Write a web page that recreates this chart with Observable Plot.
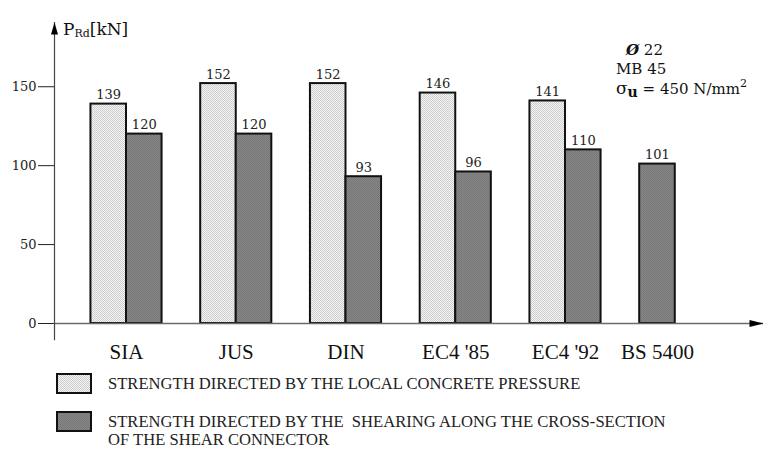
<!DOCTYPE html>
<html>
<head>
<meta charset="utf-8">
<script src="https://cdn.jsdelivr.net/npm/d3@7"></script>
<script src="https://cdn.jsdelivr.net/npm/@observablehq/plot@0.6"></script>
<style>
  body { margin: 0; background: #fff; }
  #wrap { position: relative; width: 768px; height: 450px; overflow: hidden; background: #fff; }
  #legend { position: absolute; left: 56px; top: 373px; font-family: "Liberation Serif", serif; font-size: 16.6px; color: #222; }
  .row { display: flex; align-items: flex-start; }
  .sw { width: 36px; height: 21px; box-sizing: border-box; border: 2px solid #111; flex: none; }
  .sw.light { background: repeating-conic-gradient(#cdcdcd 0 25%, #f5f5f5 0 50%) 0 0 / 2px 2px; }
  .sw.dark { background: repeating-conic-gradient(#767676 0 25%, #888 0 50%) 0 0 / 2px 2px; }
  .lt { margin-left: 16px; line-height: 18px; margin-top: 2px; }
</style>
</head>
<body>
<div id="wrap"></div>
<script>
// ---- data ----
const standards = ["SIA", "JUS", "DIN", "EC4 '85", "EC4 '92", "BS 5400"];
const concretePressure = [139, 152, 152, 146, 141, null];
const shearing = [120, 120, 93, 96, 110, 101];
const seriesNames = [
  "STRENGTH DIRECTED BY THE LOCAL CONCRETE PRESSURE",
  "STRENGTH DIRECTED BY THE  SHEARING ALONG THE CROSS-SECTION",
  "OF THE SHEAR CONNECTOR"
];
const yTicks = [0, 50, 100, 150];
const noteDiameter = "22";
const noteConcrete = "MB 45";
const noteStrength = "= 450 N/mm";

// ---- build table ----
const barWidth = 0.324;
const seriesKeys = ["pressure", "shearing"];
const rows = [];
const groups = [];
standards.forEach((s, i) => {
  const vals = [concretePressure[i], shearing[i]];
  const present = [0, 1].filter(k => vals[k] != null);
  const centers = [];
  present.forEach((k, j) => {
    const x1 = i - barWidth + j * barWidth;
    const x2 = x1 + barWidth;
    rows.push({ standard: s, series: seriesKeys[k], value: vals[k], x1, x2, xc: (x1 + x2) / 2 });
    centers.push((x1 + x2) / 2);
  });
  groups.push({ standard: s, xc: d3.mean(centers) });
});

const xDomain = [-0.656, 5.804];
const yMax = 190.7;

const arrowUp = { draw(ctx) { ctx.moveTo(0, 0); ctx.lineTo(-3.5, 12); ctx.lineTo(3.5, 12); ctx.closePath(); } };
const arrowX = { draw(ctx) { ctx.moveTo(0, 0); ctx.lineTo(-3.5, 14); ctx.lineTo(3.5, 14); ctx.closePath(); } };

const chart = Plot.plot({
  width: 768,
  height: 368,
  marginLeft: 54,
  marginRight: 5,
  marginTop: 22,
  marginBottom: 45,
  style: { fontFamily: "'DejaVu Serif', serif", background: "#fff", color: "#222" },
  x: { domain: xDomain, axis: null },
  y: { domain: [0, yMax], axis: null },
  marks: [
    Plot.rectY(rows, {
      x1: "x1", x2: "x2", y1: 0, y2: "value",
      fill: d => d.series === "pressure" ? "url(#lightDots)" : "url(#darkDots)",
      stroke: "#111", strokeWidth: 2
    }),
    Plot.text(rows, {
      x: "xc", y: "value", text: d => String(d.value),
      dy: -5, lineAnchor: "bottom", fontSize: 13, fill: "#222"
    }),
    Plot.ruleY([0], { stroke: "#6a6a6a", strokeWidth: 1.5 }),
    Plot.ruleX([xDomain[0]], { y1: -11, y2: yMax, stroke: "#444", strokeWidth: 1.2 }),
    Plot.axisY({ ticks: yTicks, tickSize: 16, tickPadding: 2, fontSize: 13, stroke: "#222", label: null, tickFormat: d => String(d) }),
    Plot.dot([0], { x: xDomain[0], y: yMax, symbol: arrowUp, fill: "#000", stroke: null }),
    Plot.dot([0], { x: xDomain[1], y: 0, symbol: arrowX, rotate: 90, fill: "#000", stroke: null }),
    Plot.text(groups, {
      x: "xc", y: 0, text: "standard", dy: 35, lineAnchor: "bottom",
      fontSize: 21, fontFamily: "'Liberation Serif', serif", fill: "#111"
    })
  ]
});

const svg = d3.select(chart);
const defs = svg.insert("defs", ":first-child");
const pl = defs.append("pattern").attr("id", "lightDots").attr("patternUnits", "userSpaceOnUse").attr("width", 2).attr("height", 2);
pl.append("rect").attr("width", 2).attr("height", 2).attr("fill", "#f5f5f5");
pl.append("rect").attr("width", 1).attr("height", 1).attr("fill", "#cdcdcd");
pl.append("rect").attr("x", 1).attr("y", 1).attr("width", 1).attr("height", 1).attr("fill", "#cdcdcd");
const pd = defs.append("pattern").attr("id", "darkDots").attr("patternUnits", "userSpaceOnUse").attr("width", 2).attr("height", 2);
pd.append("rect").attr("width", 2).attr("height", 2).attr("fill", "#888");
pd.append("rect").attr("width", 1).attr("height", 1).attr("fill", "#767676");
pd.append("rect").attr("x", 1).attr("y", 1).attr("width", 1).attr("height", 1).attr("fill", "#767676");

// axis title P_Rd [kN]
const t = svg.append("text").attr("x", 63).attr("y", 35).attr("fill", "#111")
  .attr("text-anchor", "start").attr("font-family", "DejaVu Serif, serif");
t.append("tspan").attr("font-size", 17).text("P");
t.append("tspan").attr("font-size", 11).attr("dy", 1.5).text("Rd");
t.append("tspan").attr("font-size", 17).attr("dy", -1.5).text("[kN]");

// annotation
const ann = svg.append("g").attr("fill", "#111").attr("text-anchor", "start").attr("font-family", "DejaVu Serif, serif");
const a1 = ann.append("text").attr("x", 626).attr("y", 55);
a1.append("tspan").attr("font-size", 15).attr("font-weight", "bold").attr("font-style", "italic").text("Ø");
a1.append("tspan").attr("font-size", 15).text(" " + noteDiameter);
ann.append("text").attr("x", 616).attr("y", 74).attr("font-size", 15).text(noteConcrete);
const a3 = ann.append("text").attr("x", 616).attr("y", 94);
a3.append("tspan").attr("font-size", 17).text("σ");
a3.append("tspan").attr("font-size", 14).attr("font-weight", "bold").attr("dy", 3).text("u");
a3.append("tspan").attr("font-size", 15).attr("dy", -3).text(" " + noteStrength);
a3.append("tspan").attr("font-size", 11).attr("dy", -7).text("2");

const wrap = document.getElementById("wrap");
wrap.appendChild(chart);

// legend
const legend = document.createElement("div");
legend.id = "legend";
legend.innerHTML = `
  <div class="row"><div class="sw light"></div><div class="lt">${seriesNames[0]}</div></div>
  <div class="row" style="margin-top:17px"><div class="sw dark"></div><div class="lt">${seriesNames[1].replace("  ", " &nbsp;")}<br>${seriesNames[2]}</div></div>
`;
wrap.appendChild(legend);
</script>
</body>
</html>
